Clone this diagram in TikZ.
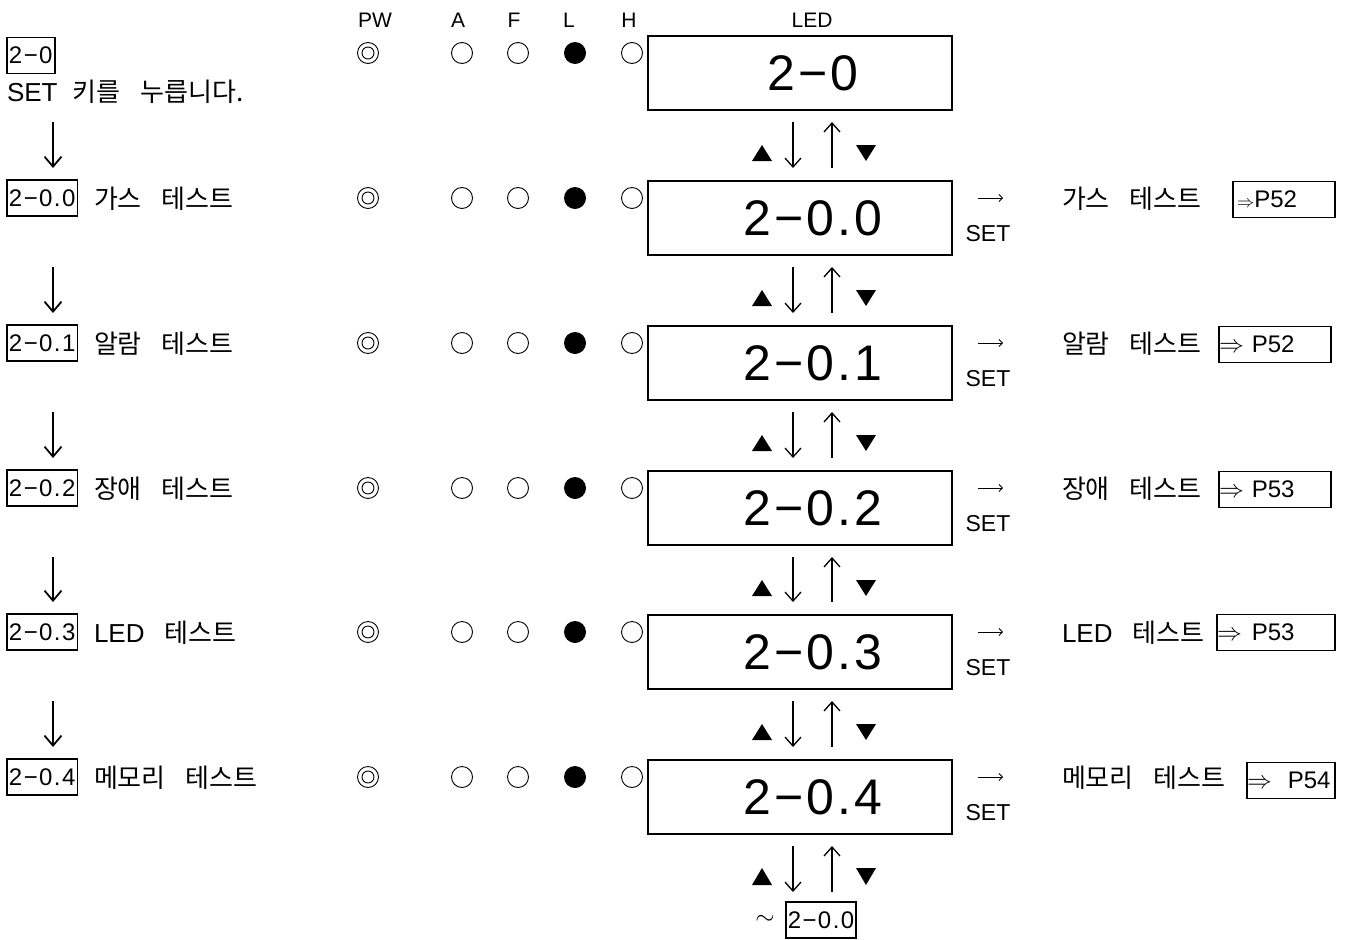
\documentclass[tikz,border=0pt]{standalone}
\usepackage{fontspec}
\setmainfont{Liberation Sans}
\newfontfamily\lat{Liberation Sans}[LetterSpace=6]
\newfontfamily\rom{Liberation Sans}
\newfontfamily\kr{Noto Sans CJK KR}
\usetikzlibrary{arrows.meta}
\newcommand\wsp{\hspace{20pt}}
\newcommand\fs[1]{\fontsize{#1}{#1}\selectfont}
\tikzset{
  every node/.style={inner sep=0pt, outer sep=0pt},
  lbl/.style={draw, line width=1.9pt, anchor=west, inner xsep=2pt, inner ysep=0pt, minimum height=36pt, font=\lat\fs{24}},
  txt/.style={anchor=west, font=\kr\fs{26}},
  led/.style={draw, line width=1.9pt, minimum width=304pt, minimum height=74pt},
  ledt/.style={font=\lat\fs{50}},
  ring/.style={circle, draw, line width=0.9pt, minimum size=21pt},
  ringin/.style={line width=0.9pt},
  dot/.style={circle, fill, minimum size=22pt},
  setl/.style={font=\rom\fs{23}},
  hdr/.style={font=\rom\fs{21}},
  rarr/.style={line width=0.8pt, -{Straight Barb[length=3.5pt,width=7pt]}},
  varr/.style={line width=1.3pt, -{Straight Barb[length=9pt,width=16pt]}},
  larr/.style={line width=1.8pt, -{Straight Barb[length=10pt,width=17pt]}},
  pref/.style={draw, line width=1.9pt, anchor=west, minimum height=36pt, inner xsep=0pt, align=left, font=\rom\fs{24}}
}
% #1 index, #2 y, #3 digit, #4 left text, #5 right text
\newcommand\lrow[5]{%
  \node[lbl] (lb#1) at (7,#2) {2−0.#3};
  \node[txt] (lt#1) at (94,#2+1) {#4};
  \node[led] (led#1) at (800,#2+20) {};
  \node[ledt] (ledt#1) at (813,#2+20) {2−0.#3};
  \node[ring] (pw#1) at (368,#2) {};
  \draw[ringin] (pw#1.center) circle (6pt);
  \node[ring] (a#1) at (462,#2) {};
  \node[ring] (f#1) at (518,#2) {};
  \node[dot] (l#1) at (575,#2) {};
  \node[ring] (h#1) at (632,#2) {};
  \node[setl] (set#1) at (988,#2+36) {SET};
  \coordinate (ra#1) at (978,#2);
  \coordinate (rb#1) at (1003,#2);
  \draw[rarr] (ra#1) -- (rb#1);
  \node[txt] (rt#1) at (1062,#2+1) {#5};
}
\begin{document}
\begin{tikzpicture}[x=1pt,y=-1pt]
\path[use as bounding box, fill=white] (0,0) rectangle (1353,940);
% headers
\node[hdr] (hpw) at (375,20) {PW};
\node[hdr] (ha) at (458,20) {A};
\node[hdr] (hf) at (514,20) {F};
\node[hdr] (hl) at (569,20) {L};
\node[hdr] (hh) at (629,20) {H};
\node[hdr] (hled) at (812,20) {LED};
% row 0
\node[lbl] (lb0) at (7,55.5) {2−0};
\node[txt] (sub0) at (7,92) {{\rom SET}\hspace{15pt}키를\hspace{20pt}누릅니다.};
\node[led] (led0) at (800,73) {};
\node[ledt] (ledt0) at (813,73) {2−0};
\node[ring] (pw0) at (368,53) {};
\draw[ringin] (pw0.center) circle (6pt);
\node[ring] (a0) at (462,53) {};
\node[ring] (f0) at (518,53) {};
\node[dot] (l0) at (575,53) {};
\node[ring] (h0) at (632,53) {};
% rows 1..5
\lrow{1}{198}{0}{가스\wsp 테스트}{가스\wsp 테스트}
\lrow{2}{343}{1}{알람\wsp 테스트}{알람\wsp 테스트}
\lrow{3}{488}{2}{장애\wsp 테스트}{장애\wsp 테스트}
\lrow{4}{632}{3}{{\rom LED}\wsp 테스트}{{\rom LED}\wsp 테스트}
\lrow{5}{777}{4}{메모리\wsp 테스트}{메모리\wsp 테스트}
% page references
\node[pref, inner xsep=4pt, text width=94pt] (p1) at (1233,199.5) {{\fs{17}$\Rightarrow$}P52};
\node[pref, text width=112pt] (p2) at (1219,344.5) {$\Rightarrow$\hspace{8pt}P52};
\node[pref, text width=112pt] (p3) at (1219,489.5) {$\Rightarrow$\hspace{8pt}P53};
\node[pref, text width=118pt] (p4) at (1217,632.5) {$\Rightarrow$\hspace{10pt}P53};
\node[pref, text width=88pt] (p5) at (1247,780.5) {$\Rightarrow$\hspace{16pt}P54};
% back to start
\node[font=\rom\fs{24}] (tl) at (765,920) {$\sim$};
\node[lbl, anchor=center] (back) at (821,920) {2−0.0};
% left arrows
\coordinate (lx) at (53,0);
\draw[larr, shorten <=18pt, shorten >=12pt] (lx |- sub0.south) -- (lx |- lb1.north);
\foreach \i/\j in {1/2,2/3,3/4,4/5}{
  \draw[larr, shorten <=51pt, shorten >=12pt] (lx |- lb\i.south) -- (lx |- lb\j.north);
}
% LED arrows and triangles
\foreach \i/\j/\y in {0/1/53,1/2/198,2/3/343,3/4/488,4/5/632}{
  \draw[varr, shorten <=12pt, shorten >=13pt] ([xshift=-7pt]led\i.south) -- ([xshift=-7pt]led\j.north);
  \draw[varr, shorten <=13pt, shorten >=12pt] ([xshift=32pt]led\j.north) -- ([xshift=32pt]led\i.south);
  \fill (752,\y+108) -- (772,\y+108) -- (762,\y+92) -- cycle;
  \fill (856,\y+92) -- (876,\y+92) -- (866,\y+108) -- cycle;
}
\draw[varr, shorten <=12pt, shorten >=10pt] ([xshift=-7pt]led5.south) -- ([xshift=-7pt]led5.south |- back.north);
\draw[varr, shorten <=10pt, shorten >=12pt] ([xshift=32pt]led5.south |- back.north) -- ([xshift=32pt]led5.south);
\fill (752,885) -- (772,885) -- (762,868) -- cycle;
\fill (856,868) -- (876,868) -- (866,885) -- cycle;
\end{tikzpicture}
\end{document}
